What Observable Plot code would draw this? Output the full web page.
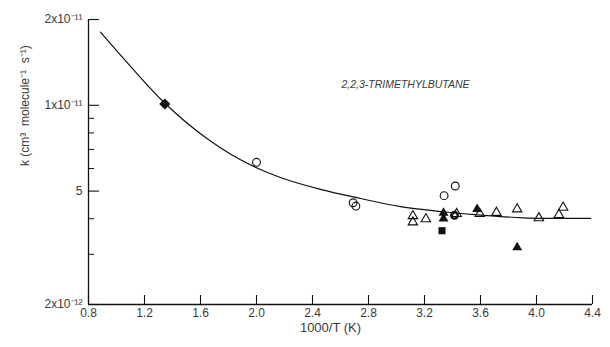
<!DOCTYPE html>
<html>
<head>
<meta charset="utf-8">
<script src="https://cdn.jsdelivr.net/npm/d3@7"></script>
<script src="https://cdn.jsdelivr.net/npm/@observablehq/plot@0.6"></script>
<style>
  html, body { margin: 0; padding: 0; background: #fff; }
  svg { display: block; }
</style>
</head>
<body>
<div id="chart"></div>
<script>
// ---- data ----
const xDomain = [0.8, 4.4];
const yDomain = [2e-12, 2e-11];

const xTicks = [0.8, 1.2, 1.6, 2.0, 2.4, 2.8, 3.2, 3.6, 4.0, 4.4];
const xTickLabels = ["0.8", "1.2", "1.6", "2.0", "2.4", "2.8", "3.2", "3.6", "4.0", "4.4"];
const yMajorTicks = [2e-12, 5e-12, 1e-11, 2e-11];
const yMajorLabels = ["2x10⁻¹²", "5", "1x10⁻¹¹", "2x10⁻¹¹"];
const yMinorTicks = [3e-12, 4e-12, 6e-12, 7e-12, 8e-12, 9e-12];

// fitted curve
const curveX = [0.886, 1.100, 1.336, 1.600, 1.886, 2.171, 2.457, 2.743, 3.029, 3.321, 3.600, 3.907, 4.386];
const curveY = [1.805e-11, 1.369e-11, 1.027e-11, 7.95e-12, 6.44e-12, 5.58e-12, 5.07e-12, 4.71e-12, 4.41e-12, 4.24e-12, 4.12e-12, 4.03e-12, 4.01e-12];

// experimental points
const openCircleX = [2.00, 2.69, 2.71, 3.34, 3.42];
const openCircleY = [6.31e-12, 4.55e-12, 4.43e-12, 4.82e-12, 5.21e-12];

const openTriangleX = [3.117, 3.117, 3.21, 3.43, 3.595, 3.714, 3.862, 4.017, 4.16, 4.19];
const openTriangleY = [4.09e-12, 3.89e-12, 3.99e-12, 4.16e-12, 4.16e-12, 4.20e-12, 4.32e-12, 4.02e-12, 4.13e-12, 4.38e-12];

const filledTriangleX = [3.336, 3.336, 3.576, 3.862];
const filledTriangleY = [4.19e-12, 4.00e-12, 4.32e-12, 3.17e-12];

const filledSquareX = [3.325];
const filledSquareY = [3.63e-12];

const filledDiamondX = [1.345];
const filledDiamondY = [1.01e-11];

const thickCircleX = [3.414];
const thickCircleY = [4.11e-12];

const compoundLabel = "2,2,3-TRIMETHYLBUTANE";
const xLabel = "1000/T (K)";
const yLabel = "k (cm³  molecule⁻¹  s⁻¹)";

// ---- build tables ----
const zip = (xs, ys) => xs.map((x, i) => ({x, y: ys[i]}));
const curve = zip(curveX, curveY);
const openCircles = zip(openCircleX, openCircleY);
const openTriangles = zip(openTriangleX, openTriangleY);
const filledTriangles = zip(filledTriangleX, filledTriangleY);
const filledSquares = zip(filledSquareX, filledSquareY);
const filledDiamonds = zip(filledDiamondX, filledDiamondY);
const thickCircles = zip(thickCircleX, thickCircleY);

const W = 610, H = 347;
const mL = 88, mR = 18, mT = 19, mB = 43;
const frameW = W - mL - mR, frameH = H - mT - mB;
const textColor = "#3a3a3a";

const chart = Plot.plot({
  width: W,
  height: H,
  marginLeft: mL,
  marginRight: mR,
  marginTop: mT,
  marginBottom: mB,
  style: {fontFamily: "Liberation Sans, Arial, sans-serif", background: "#fff"},
  x: {domain: xDomain, axis: null},
  y: {type: "log", domain: yDomain, axis: null},
  marks: [
    // axis lines
    Plot.ruleX([xDomain[0]], {stroke: "#111", strokeWidth: 1.3}),
    Plot.ruleY([yDomain[0]], {stroke: "#111", strokeWidth: 1.3}),
    // inward ticks
    Plot.tickY(yMajorTicks, {y: d => d, insetRight: frameW - 11, stroke: "#111", strokeWidth: 1.1}),
    Plot.tickY(yMinorTicks, {y: d => d, insetRight: frameW - 6, stroke: "#111", strokeWidth: 1}),
    Plot.tickX(xTicks, {x: d => d, insetTop: frameH - 9, stroke: "#111", strokeWidth: 1.1}),
    // tick labels
    Plot.text(yMajorTicks, {x: xDomain[0], y: d => d, text: (d, i) => yMajorLabels[i], textAnchor: "end", dx: -6, fontSize: 12, fill: textColor}),
    Plot.text(xTicks, {x: d => d, y: yDomain[0], text: (d, i) => xTickLabels[i], dy: 9, fontSize: 12, fill: textColor}),
    // axis titles
    Plot.text([xLabel], {frameAnchor: "bottom", dx: -10, dy: 27, fontSize: 13, fill: textColor}),
    Plot.text([yLabel], {frameAnchor: "left", dx: -63, dy: 4, rotate: -90, fontSize: 12, fill: textColor}),
    // compound label
    Plot.text([compoundLabel], {frameAnchor: "top", dx: 65, dy: 61, fontSize: 10.5, fontStyle: "italic", fill: textColor}),
    // curve
    Plot.line(curve, {x: "x", y: "y", curve: "catmull-rom", stroke: "#111", strokeWidth: 1.2}),
    // points
    Plot.dot(openCircles, {x: "x", y: "y", r: 3.9, stroke: "#111", fill: "none", strokeWidth: 1.1}),
    Plot.dot(openTriangles, {x: "x", y: "y", symbol: "triangle", r: 3.5, stroke: "#111", fill: "none", strokeWidth: 1.1}),
    Plot.dot(filledTriangles, {x: "x", y: "y", symbol: "triangle", r: 3.7, fill: "#111", stroke: "none"}),
    Plot.dot(filledSquares, {x: "x", y: "y", symbol: "square", r: 4, fill: "#111", stroke: "none"}),
    Plot.dot(filledDiamonds, {x: "x", y: "y", symbol: "diamond2", r: 5, fill: "#111", stroke: "none"}),
    Plot.dot(thickCircles, {x: "x", y: "y", r: 3.3, stroke: "#111", fill: "none", strokeWidth: 2.4})
  ]
});
document.getElementById("chart").appendChild(chart);
</script>
</body>
</html>
